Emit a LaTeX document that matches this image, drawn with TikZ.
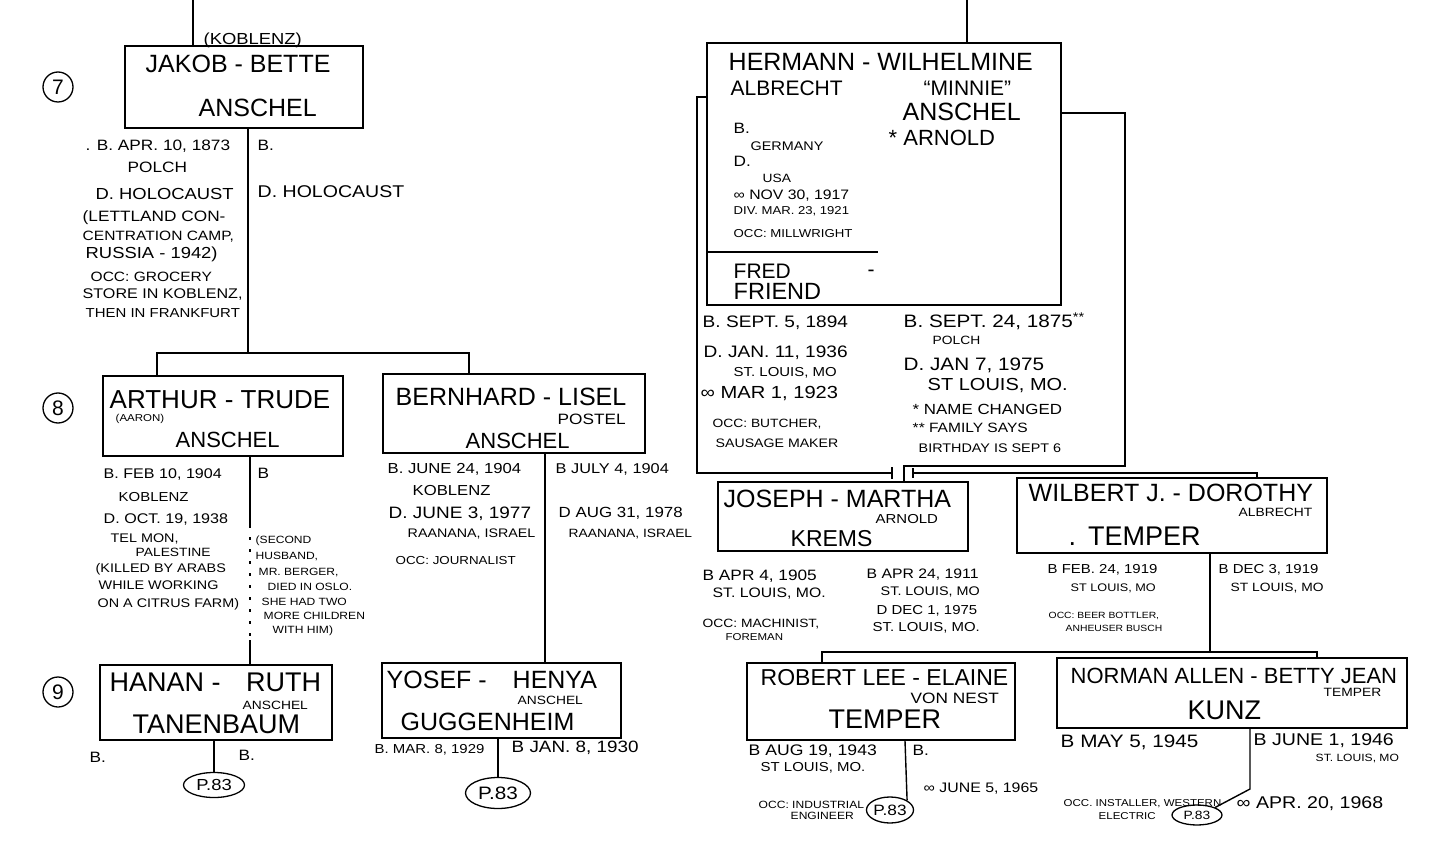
\documentclass[tikz,border=0pt]{standalone}
\usepackage{fontspec}
\setmainfont{Liberation Sans}
\newfontfamily\hand{Liberation Sans}[FakeStretch=1.15]
\usetikzlibrary{positioning,shapes.geometric}

\begin{document}
\begin{tikzpicture}[x=1pt, y=-1pt, line width=1.4pt,
    famb/.style={draw, line width=1.4pt, inner sep=0pt},
    gen/.style={draw, circle, line width=1.3pt, minimum size=30pt, inner sep=0pt, font=\fontsize{21}{21}\selectfont},
    pg/.style={draw, ellipse, line width=1.3pt, inner sep=0pt, font=\hand\fontsize{#1}{#1}\selectfont},
    pg/.default=15,
    nm/.style={anchor=west, inner sep=0pt, text height=17.9pt, text depth=0pt, font=\fontsize{#1}{#1}\selectfont},
    nm/.default=25,
    dt/.style={anchor=west, inner sep=0pt, text height=10.7pt, text depth=0pt, font=\hand\fontsize{#1}{#1}\selectfont},
    dt/.default=15,
    sm/.style={anchor=west, inner sep=0pt, text height=8.6pt, text depth=0pt, font=\hand\fontsize{#1}{#1}\selectfont},
    sm/.default=12,
    xs/.style={anchor=west, inner sep=0pt, text height=7.2pt, text depth=0pt, font=\hand\fontsize{#1}{#1}\selectfont},
    xs/.default=10]
    \useasboundingbox (0,0) rectangle (1432,850);

    \node[gen] (g7) at (58,87) {7};
    \node[gen] (g8) at (58,408) {8};
    \node[gen] (g9) at (58,692) {9};

    \node[famb, minimum width=238pt, minimum height=82pt] (jakob) at (244,87) {};
    \node[famb, minimum width=240pt, minimum height=80pt] (arthur) at (223,416) {};
    \node[famb, minimum width=262pt, minimum height=79pt] (bernhard) at (514,413.5) {};
    \node[famb, minimum width=232pt, minimum height=75pt] (hanan) at (216,702.5) {};
    \node[famb, minimum width=239pt, minimum height=75pt] (yosef) at (501.5,700.5) {};
    \node[famb, minimum width=354pt, minimum height=262pt] (hermann) at (884,174) {};
    \node[famb, minimum width=250pt, minimum height=69pt] (joseph) at (843,516.5) {};
    \node[famb, minimum width=310pt, minimum height=75pt] (wilbert) at (1172,515.5) {};
    \node[famb, minimum width=268pt, minimum height=77pt] (robert) at (881,701.5) {};
    \node[famb, minimum width=350pt, minimum height=70pt] (norman) at (1232,693) {};

    \node[pg=16, minimum width=61pt, minimum height=25pt] (p83a) at (214,785) {P.83};
    \node[pg=18, minimum width=65pt, minimum height=31pt] (p83b) at (498,793) {P.83};
    \node[pg=15, minimum width=46pt, minimum height=26pt] (p83c) at (890,810) {P.83};
    \node[pg=12, minimum width=50pt, minimum height=20pt] (p83d) at (1197,815) {P.83};

    \node[dt=16] (kob) at (203,39) {(KOBLENZ)};
    \node[nm] (jk1) at (145,64) {JAKOB - BETTE};
    \node[nm] (jk2) at (198,108) {ANSCHEL};
    \node[dt] (jd1) at (85,145) {. B. APR. 10, 1873};
    \node[dt] (jd2) at (127,167) {POLCH};
    \node[dt=16] (jd3) at (95,194) {D. HOLOCAUST};
    \node[dt] (jd4) at (82,216) {(LETTLAND CON-};
    \node[dt=13.5] (jd5) at (82,235) {CENTRATION CAMP,};
    \node[dt=16] (jd6) at (85,253) {RUSSIA - 1942)};
    \node[dt=13.5] (jd7) at (90,276) {OCC: GROCERY};
    \node[dt=14] (jd8) at (82,293) {STORE IN KOBLENZ,};
    \node[dt=13] (jd9) at (85,312) {THEN IN FRANKFURT};
    \node[dt] (bd1) at (257,145) {B.};
    \node[dt=17] (bd2) at (257,192) {D. HOLOCAUST};

    \node[nm=26] (ar1) at (109,400) {ARTHUR - TRUDE};
    \node[xs] (ar2) at (115,418) {(AARON)};
    \node[nm=22] (ar3) at (175,439) {ANSCHEL};
    \node[dt=14] (ad1) at (103,473) {B. FEB 10, 1904};
    \node[dt=13] (ad2) at (118,496) {KOBLENZ};
    \node[dt=14] (ad3) at (103,518) {D. OCT. 19, 1938};
    \node[sm=12.5] (ad4) at (110,538) {TEL MON,};
    \node[sm] (ad5) at (135,552) {PALESTINE};
    \node[sm=12.5] (ad6) at (95,568) {(KILLED BY ARABS};
    \node[sm=12.5] (ad7) at (98,585) {WHILE WORKING};
    \node[sm=12.5] (ad8) at (97,603) {ON A CITRUS FARM)};
    \node[dt] (td1) at (257,473) {B};
    \node[xs=10.5] (td2) at (255,540) {(SECOND};
    \node[xs=10.5] (td3) at (255,556) {HUSBAND,};
    \node[xs=10.5] (td4) at (258,572) {MR. BERGER,};
    \node[xs=10.5] (td5) at (267,587) {DIED IN OSLO.};
    \node[xs=10.5] (td6) at (261,602) {SHE HAD TWO};
    \node[xs=10.5] (td7) at (263,616) {MORE CHILDREN};
    \node[xs=10.5] (td8) at (272,630) {WITH HIM)};

    \node[nm] (be1) at (395,397) {BERNHARD - LISEL};
    \node[dt] (be2) at (557,419) {POSTEL};
    \node[nm=22] (be3) at (465,440) {ANSCHEL};
    \node[dt=14.5] (bb1) at (387,468) {B. JUNE 24, 1904};
    \node[dt=14.5] (bb2) at (412,490) {KOBLENZ};
    \node[dt=16.5] (bb3) at (388,513) {D. JUNE 3, 1977};
    \node[sm=12.4] (bb4) at (407,533) {RAANANA, ISRAEL};
    \node[sm=11.6] (bb5) at (395,560) {OCC: JOURNALIST};
    \node[dt=14.2] (lb1) at (555,468) {B JULY 4, 1904};
    \node[dt=14.7] (lb2) at (558,512) {D AUG 31, 1978};
    \node[sm] (lb3) at (568,533) {RAANANA, ISRAEL};

    \node[nm=27] (ha1) at (109,683) {HANAN - \hspace{18pt}RUTH};
    \node[sm] (ha2) at (242,705) {ANSCHEL};
    \node[nm=27] (ha3) at (132,725) {TANENBAUM};
    \node[dt] (hb1) at (89,757) {B.};
    \node[dt] (hb2) at (238,755) {B.};

    \node[nm] (yo1) at (386,680) {YOSEF -\hspace{26pt}HENYA};
    \node[sm] (yo2) at (517,700) {ANSCHEL};
    \node[nm] (yo3) at (400,722) {GUGGENHEIM};
    \node[dt=13] (yb1) at (374,748) {B. MAR. 8, 1929};
    \node[dt=16.4] (yb2) at (511,747) {B JAN. 8, 1930};

    \node[nm] (he1) at (728,62) {HERMANN - WILHELMINE};
    \node[nm=21] (he2) at (730,87) {ALBRECHT};
    \node[nm=21] (he3) at (923,87) {``MINNIE''};
    \node[nm] (he4) at (902,112) {ANSCHEL};
    \node[nm=22] (he5) at (888,137) {* ARNOLD};
    \node[dt] (he6) at (733,128) {B.};
    \node[sm=12.5] (he7) at (750,146) {GERMANY};
    \node[dt] (he8) at (733,161) {D.};
    \node[sm] (he9) at (762,178) {USA};
    \node[sm=13.7] (he10) at (733,195) {∞ NOV 30, 1917};
    \node[xs=11.4] (he11) at (733,211) {DIV. MAR. 23, 1921};
    \node[sm=11.5] (he12) at (733,233) {OCC: MILLWRIGHT};
    \node[nm=21] (fr1) at (733,270) {FRED};
    \node[nm=21] (fr2) at (867,268) {-};
    \node[nm=23.5] (fr3) at (733,291) {FRIEND};
    \node[dt=16.6] (fb1) at (702,322) {B. SEPT. 5, 1894};
    \node[dt=16.6] (fb2) at (703,352) {D. JAN. 11, 1936};
    \node[sm=13] (fb3) at (733,372) {ST. LOUIS, MO};
    \node[dt=17.5] (fb4) at (700,393) {∞ MAR 1, 1923};
    \node[sm] (fb5) at (712,423) {OCC: BUTCHER,};
    \node[sm=12.3] (fb6) at (715,443) {SAUSAGE MAKER};
    \node[dt=18] (mb1) at (903,322) {B. SEPT. 24, 1875\textsuperscript{**}};
    \node[sm] (mb2) at (932,340) {POLCH};
    \node[dt=18] (mb3) at (903,365) {D. JAN 7, 1975};
    \node[dt=17.4] (mb4) at (927,385) {ST LOUIS, MO.};
    \node[sm=14.7] (mb5) at (912,410) {* NAME CHANGED};
    \node[sm=13.5] (mb6) at (912,428) {** FAMILY SAYS};
    \node[sm=12.5] (mb7) at (918,448) {BIRTHDAY IS SEPT 6};

    \node[nm] (jo1) at (723,499) {JOSEPH - MARTHA};
    \node[dt=13] (jo2) at (875,518) {ARNOLD};
    \node[nm=23] (jo3) at (790,538) {KREMS};
    \node[dt] (jb1) at (702,575) {B APR 4, 1905};
    \node[dt=13.7] (jb2) at (712,592) {ST. LOUIS, MO.};
    \node[sm] (jb3) at (702,623) {OCC: MACHINIST,};
    \node[xs] (jb4) at (725,637) {FOREMAN};
    \node[dt=13.7] (mk1) at (866,573) {B APR 24, 1911};
    \node[dt=12.5] (mk2) at (880,590) {ST. LOUIS, MO};
    \node[dt=13] (mk3) at (876,609) {D DEC 1, 1975};
    \node[dt=13] (mk4) at (872,626) {ST. LOUIS, MO.};

    \node[nm] (wi1) at (1028,493) {WILBERT J. - DOROTHY};
    \node[sm] (wi2) at (1238,512) {ALBRECHT};
    \node[nm=27] (wi3) at (1068,537) {.\hspace{12pt}TEMPER};
    \node[dt=13] (wb1) at (1047,568) {B FEB. 24, 1919};
    \node[sm=11] (wb2) at (1070,587) {ST LOUIS, MO};
    \node[xs=9] (wb3) at (1048,615) {OCC: BEER BOTTLER,};
    \node[xs=9] (wb4) at (1065,628) {ANHEUSER BUSCH};
    \node[dt=13] (db1) at (1218,568) {B DEC 3, 1919};
    \node[sm] (db2) at (1230,587) {ST LOUIS, MO};

    \node[nm=23] (ro1) at (760,677) {ROBERT LEE - ELAINE};
    \node[dt] (ro2) at (910,698) {VON NEST};
    \node[nm=27] (ro3) at (828,720) {TEMPER};
    \node[dt=15.3] (rb1) at (748,750) {B AUG 19, 1943};
    \node[sm=13] (rb2) at (760,767) {ST LOUIS, MO.};
    \node[dt] (eb1) at (912,750) {B.};
    \node[sm=13.8] (eb2) at (923,788) {∞ JUNE 5, 1965};
    \node[xs=10.5] (rb3) at (758,805) {OCC: INDUSTRIAL};
    \node[xs=10.5] (rb4) at (790,816) {ENGINEER};

    \node[nm=22] (no1) at (1070,675) {NORMAN ALLEN - BETTY JEAN};
    \node[sm] (no2) at (1323,692) {TEMPER};
    \node[nm=27] (no3) at (1187,711) {KUNZ};
    \node[dt=18] (nb1) at (1060,742) {B MAY 5, 1945};
    \node[dt=17] (tb1) at (1253,740) {B JUNE 1, 1946};
    \node[sm=10.5] (tb2) at (1315,757) {ST. LOUIS, MO};
    \node[xs] (nb2) at (1063,803) {OCC. INSTALLER, WESTERN};
    \node[xs] (nb3) at (1098,816) {ELECTRIC};
    \node[dt=17] (tb3) at (1236,803) {∞ APR. 20, 1968};

    \coordinate (tl) at (193,0);
    \coordinate (jl) at (248,353);
    \coordinate (sa) at (157,353);
    \coordinate (sb) at (469,353);
    \coordinate (al) at (250,525);
    \coordinate (am) at (250,640);
    \coordinate (bl) at (545,0);
    \draw (tl) -- (tl |- jakob.north);
    \draw (jakob.south -| jl) -- (jl);
    \draw (arthur.north -| sa) -- (sa) -- (sb) -- (bernhard.north -| sb);
    \draw (arthur.south -| al) -- (al);
    \draw[dash pattern=on 3pt off 9pt] (al) -- (am);
    \draw (am) -- (hanan.north -| am);
    \draw (bernhard.south -| bl) -- (yosef.north -| bl);
    \draw (hanan.south -| p83a) -- (p83a.north);
    \draw (yosef.south -| p83b) -- (p83b.north);

    \coordinate (ht) at (967,0);
    \coordinate (la) at (697,97);
    \coordinate (lb) at (892,473);
    \coordinate (ra) at (1125,113);
    \coordinate (rb) at (904,466);
    \coordinate (rc) at (913,473);
    \coordinate (rd) at (1257,473);
    \draw (ht) -- (ht |- hermann.north);
    \draw (hermann.west |- 0,252) -- (878,252);
    \draw (hermann.west |- la) -- (la) |- (lb);
    \draw (lb) ++(0,-6) -- ++(0,12);
    \draw (hermann.east |- ra) -- (ra) |- (rb) -- (rb |- joseph.north);
    \draw (rc) ++(0,-5) -- ++(0,10);
    \draw (rc) -- (rd) -- (rd |- wilbert.north);

    \coordinate (wl) at (1210,652);
    \coordinate (wa) at (822,652);
    \coordinate (wb) at (1317,652);
    \coordinate (rl) at (905,0);
    \coordinate (nd) at (1250,789);
    \draw (wilbert.south -| wl) -- (wl);
    \draw (robert.north -| wa) -- (wa) -- (wb) -- (norman.north -| wb);
    \draw (robert.south -| rl) -- (p83c.north east);
    \draw (nd |- norman.south) -- (nd) -- (p83d.north east);
\end{tikzpicture}
\end{document}
